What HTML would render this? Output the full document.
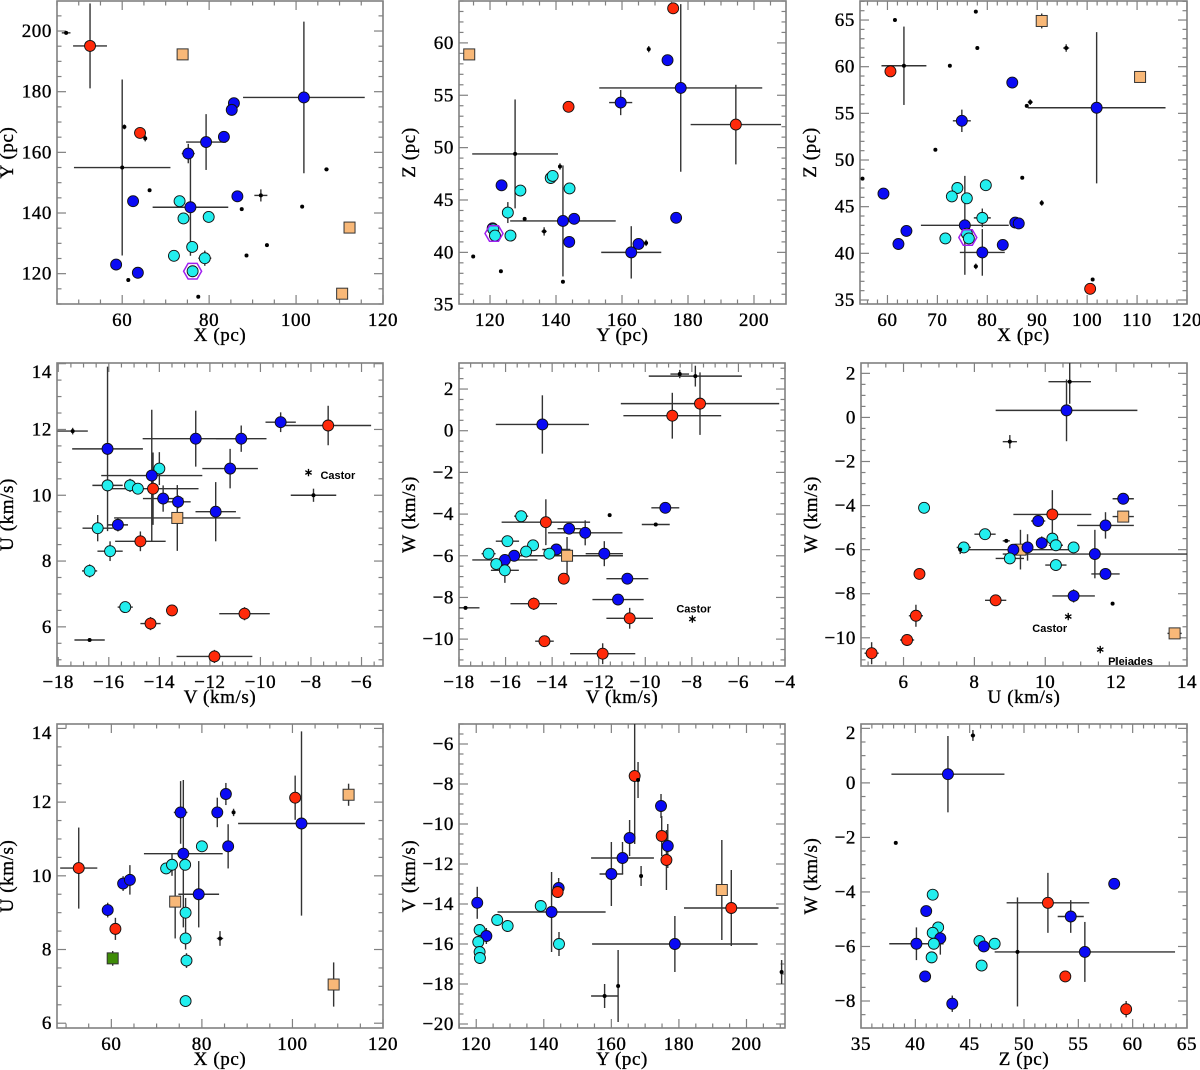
<!DOCTYPE html>
<html><head><meta charset="utf-8">
<style>
body{margin:0;background:#fff;}
svg{display:block;font-family:"Liberation Serif",serif;}
.lbl{letter-spacing:0.6px;stroke:#000;stroke-width:0.35px;}
</style></head>
<body>
<svg id="fig" width="1200" height="1070" viewBox="0 0 1200 1070" xmlns="http://www.w3.org/2000/svg"></svg>
<script>
// point format: [x, y, xErr, yErr, type]  b=blue c=cyan r=red o=orange square g=green square k=black dot
const p1Points=[[52.6,195.1,3.9,14,'r'],[47.1,199.4,1,0,'k'],[73.9,192.3,0,0,'o'],[101.8,178.1,14,25,'b'],[85.7,176.2,0,0,'b'],[85.2,174,0,0,'b'],[83.4,165.1,0,0,'b'],[79.3,163.4,4.6,9.2,'b'],[75.2,159.6,1.5,3.2,'b'],[64.1,166.4,0,0,'r'],[60.5,168.4,0,0.8,'k'],[65.3,164.6,0.4,1,'k'],[60,155,11.1,29,'k'],[66.3,147.5,0,0,'k'],[62.5,143.9,0,0,'b'],[73.2,143.9,0,0,'c'],[75.7,141.9,8.7,16,'b'],[74.1,138.2,0,0,'c'],[79.9,138.7,0,0,'c'],[86.5,145.5,0,0,'b'],[87.5,141.3,0,0,'k'],[91.9,145.8,1.5,2,'k'],[101.4,142.1,0,0,'k'],[107,154.4,0.5,0.5,'k'],[93.3,129.4,0,0,'k'],[88.6,126,0,0,'k'],[76.1,128.8,0,0,'c'],[71.9,125.9,0,0,'c'],[79,125.1,1.5,2.5,'c'],[76.2,120.8,0,0,'c'],[58.6,123,0,0,'b'],[63.6,120.3,0,0,'b'],[61.4,117.9,0,0,'k'],[77.5,112.4,0,0,'k'],[112.3,135.2,0,0,'o'],[110.6,113.4,0,0,'o']];
const p1Hex=[[76.2,120.8]];
const p2Points=[[113.7,58.9,0,0,'o'],[175.5,63.3,0,0,'r'],[168.1,59.4,0.5,0.3,'k'],[173.8,58.35,0,0,'b'],[177.8,55.7,24.7,8,'b'],[159.6,54.3,3.5,1.2,'b'],[143.8,53.9,0,0,'r'],[194.5,52.2,13.7,3.8,'r'],[127.6,49.4,13,5.2,'k'],[141.2,48.2,0.4,0.3,'k'],[138.4,47.1,0,0,'c'],[139,47.3,0,0,'c'],[144.1,46.1,0,0,'c'],[129.2,45.9,0,0,'c'],[123.5,46.4,0,0,'b'],[125.4,43.8,1.3,1,'c'],[130.5,43.2,0,0,'k'],[142.1,43,16,5.3,'b'],[145.5,43.2,0,0,'b'],[136.4,42,0.8,0.4,'k'],[126.2,41.6,0,0,'c'],[120.8,42.3,0,0,'b'],[121,42.2,0,0,'c'],[121.5,41.6,0,0,'c'],[144,41,0,0,'b'],[162.8,40,9.1,2.5,'b'],[165,40.8,0,0,'b'],[167.3,40.9,0.5,0.3,'k'],[176.4,43.3,0,0,'b'],[114.9,39.6,0,0,'k'],[123.3,38.2,0,0,'k'],[142.1,37.2,0,0,'k']];
const p2Hex=[[121.2,41.8]];
const p3Points=[[61.5,65,0,0,'k'],[77.7,65.9,0,0,'k'],[90.9,64.9,0.7,0.8,'o'],[78,62,0,0,'k'],[95.8,62,0.6,0.4,'k'],[72.5,60.1,0,0,'k'],[63.3,60.1,4.5,4.2,'k'],[60.6,59.5,0,0,'r'],[110.6,58.9,0,0,'o'],[85,58.3,0,0,'b'],[88.6,56.2,0.5,0.3,'k'],[87.9,55.8,0,0,'k'],[101.9,55.6,13.8,8.1,'b'],[74.9,54.2,1.8,1.2,'b'],[69.6,51.1,0,0,'k'],[55,48,0,0,'k'],[87,48.1,0,0,'k'],[90.9,45.4,0.4,0.3,'k'],[59.2,46.4,0,0,'b'],[74,47,0,0,'c'],[72.9,46.1,0,0,'c'],[75.9,45.9,0,0,'c'],[79.7,47.3,0,0,'c'],[79,43.8,1.7,1,'c'],[75.5,43,8.8,5.3,'b'],[85.6,43.3,0,0,'b'],[86.3,43.2,0,0,'b'],[71.6,41.6,0,0,'c'],[75.9,42.1,0,0,'c'],[76.3,41.6,0,0,'c'],[63.8,42.4,0,0,'b'],[62.2,41,0,0,'b'],[83.1,40.9,0,0,'b'],[79,40.1,4.5,2.5,'b'],[77.7,38.6,0.4,0.3,'k'],[101.1,37.2,0,0,'k'],[100.6,36.2,0,0,'r']];
const p3Hex=[[76.1,41.7]];
const p4Points=[[-17.43,11.95,0.6,0.1,'k'],[-16.05,11.41,1.4,2.5,'b'],[-9.2,12.22,0.6,0.3,'b'],[-7.32,12.12,1.7,0.6,'r'],[-12.56,11.72,2.1,0.85,'b'],[-10.76,11.72,1.0,0.4,'b'],[-11.2,10.81,1.1,0.6,'b'],[-7.9,10,0.9,0.2,'k'],[-14.0,10.81,0,0.5,'c'],[-14.3,10.6,2.0,2.0,'b'],[-16.05,10.3,0.6,0,'c'],[-15.16,10.3,0,0.2,'c'],[-14.85,10.2,0,0,'c'],[-14.25,10.2,1.8,1.1,'r'],[-13.85,9.9,0.8,0.4,'b'],[-13.26,9.8,0.5,0.2,'b'],[-11.77,9.5,0.8,0.9,'b'],[-13.29,9.31,2.5,1.0,'o'],[-15.64,9.1,0.4,0.2,'b'],[-16.44,9.0,0.6,0.4,'c'],[-14.75,8.6,1.0,0.3,'r'],[-15.95,8.3,0.5,0.3,'c'],[-16.76,7.7,0.3,0.2,'c'],[-15.35,6.6,0.3,0,'c'],[-13.5,6.5,0,0,'r'],[-14.35,6.1,0.4,0.2,'r'],[-10.63,6.4,1.0,0.2,'r'],[-11.82,5.1,1.5,0.2,'r'],[-16.76,5.6,0.6,0,'k']];
const p4Stars=[[-8.1,10.7]];
const p4StarNames=['Castor'];
const p5Points=[[-8.52,2.72,0.4,0.2,'k'],[-7.85,2.62,2,0.5,'k'],[-7.65,1.3,3.4,1.5,'r'],[-8.84,0.72,2.1,1.1,'r'],[-14.42,0.3,2.0,1.4,'b'],[-9.14,-3.7,0.6,0.1,'b'],[-11.53,-4.05,0,0,'k'],[-9.55,-4.5,0.6,0,'k'],[-15.33,-4.1,0.3,0,'c'],[-14.27,-4.39,1.9,1.1,'r'],[-13.27,-4.7,0.5,0,'b'],[-12.58,-4.9,1.6,0.6,'b'],[-14.82,-5.5,0,0,'c'],[-15.92,-5.3,0.5,0,'c'],[-15.12,-5.8,0,0,'c'],[-13.82,-5.7,0.6,0.2,'b'],[-14.12,-5.9,0,0,'c'],[-13.36,-6.0,2.4,0.9,'o'],[-11.76,-5.9,0.8,0.6,'b'],[-16.73,-5.9,0.3,0,'c'],[-15.63,-6.0,0,0,'b'],[-16.03,-6.2,1.4,0,'b'],[-16.4,-6.4,0,0,'c'],[-16.03,-6.7,0.6,0.6,'c'],[-13.5,-7.1,0,0,'r'],[-10.77,-7.1,0.9,0,'b'],[-11.17,-8.1,1.1,0.2,'b'],[-14.79,-8.3,1.0,0.3,'r'],[-17.72,-8.5,0.6,0,'k'],[-10.67,-9.0,1.0,0.5,'r'],[-14.33,-10.1,0.4,0,'r'],[-11.83,-10.7,1.4,0.5,'r']];
const p5Stars=[[-7.98,-9.0]];
const p5StarNames=['Castor'];
const p6Points=[[10.69,1.62,0.6,1.0,'k'],[10.6,0.32,2.0,1.4,'b'],[9.0,-1.1,0.2,0.3,'k'],[6.58,-4.1,0,0,'c'],[12.2,-3.69,0.3,0,'b'],[10.2,-4.4,1.1,1.1,'r'],[12.2,-4.5,0.3,0,'o'],[9.8,-4.7,0.2,0,'b'],[11.7,-4.9,0.8,0.6,'b'],[8.3,-5.3,0.3,0,'c'],[8.9,-5.6,0.1,0,'k'],[10.2,-5.5,0,0,'c'],[9.9,-5.7,0,0.3,'b'],[10.3,-5.8,0.2,0,'c'],[7.7,-5.9,0.2,0.2,'c'],[7.6,-6.0,0,0.2,'k'],[9.3,-6.0,1.5,0.9,'o'],[9.1,-6.0,0,0,'b'],[9.5,-5.9,0,0.6,'b'],[10.8,-5.9,0,0,'c'],[11.4,-6.2,2.6,1.1,'b'],[9.0,-6.4,0.4,0,'c'],[10.3,-6.7,0.3,0,'c'],[6.45,-7.1,0,0,'r'],[11.7,-7.1,0.4,0,'b'],[10.8,-8.1,0.6,0.3,'b'],[11.9,-8.45,0,0,'k'],[8.6,-8.3,0.3,0.2,'r'],[6.35,-9.0,0.2,0.5,'r'],[6.1,-10.1,0.2,0,'r'],[13.65,-9.8,0.2,0,'o'],[5.1,-10.7,0.2,0.5,'r']];
const p6Stars=[[10.65,-9.0],[11.55,-10.5]];
const p6StarNames=['Castor','Pleiades'];
const p7Points=[[52.8,10.21,4.1,1.1,'r'],[59.2,9.07,0,0.2,'b'],[60.9,8.56,0,0.3,'r'],[60.3,7.76,0,0.2,'g'],[62.6,9.79,0,0.2,'b'],[64.1,9.89,0,0.4,'b'],[72.1,10.2,0,0,'c'],[73.4,10.3,0,0.3,'c'],[74.1,9.3,0,1.0,'o'],[75.3,11.72,1.5,0.85,'b'],[75.9,10.6,8.7,2.0,'b'],[76.3,10.3,0,0,'c'],[76.4,9.0,0,0.4,'c'],[76.4,8.3,0,0.3,'c'],[76.6,7.7,0,0.2,'c'],[76.4,6.6,0,0,'c'],[80.0,10.8,0,0,'c'],[79.3,9.5,4.5,0.9,'b'],[84.0,8.3,0.7,0.2,'k'],[83.4,11.72,0,0.4,'b'],[85.3,12.22,0,0.3,'b'],[85.8,10.8,0,0.6,'b'],[87.0,11.72,0.4,0.1,'k'],[100.6,12.12,0,0.6,'r'],[102.0,11.42,14,2.5,'b'],[112.4,12.2,0,0.3,'o'],[109.1,7.05,0,0.6,'o']];
const p8Points=[[120.3,-13.94,0,0.8,'b'],[121.0,-15.3,0,0.3,'c'],[123.0,-15.6,0,0.4,'b'],[120.6,-15.9,0,0,'c'],[121.0,-16.4,0,0.3,'c'],[121.1,-16.7,0,0.3,'c'],[126.2,-14.8,0,0,'c'],[129.3,-15.1,0,0,'c'],[139.1,-14.1,0,0,'c'],[142.3,-14.4,16,2.0,'b'],[144.4,-13.2,0,0.5,'b'],[144.1,-13.4,0,0,'r'],[144.5,-16.0,0,0.6,'c'],[160.0,-12.5,3.5,1.6,'b'],[163.3,-11.7,9.3,0.8,'b'],[165.4,-10.7,0,0.9,'b'],[166.9,-7.6,0,3.4,'r'],[167.9,-7.8,0,0.9,'k'],[168.8,-12.6,0,0.5,'k'],[174.7,-9.1,0,0.6,'b'],[174.9,-10.6,0,1.0,'r'],[176.7,-11.1,0,1.1,'b'],[176.3,-11.8,0,1.5,'r'],[192.7,-13.3,0,2.5,'o'],[195.5,-14.2,14,1.9,'r'],[178.8,-16.0,24.5,1.4,'b'],[158.0,-18.6,4,0.6,'k'],[162.0,-18.1,0,1.8,'k'],[210.4,-17.4,0.5,0.6,'k']];
const p9Points=[[45.3,1.74,0.2,0.2,'k'],[43.0,0.32,5.2,1.4,'b'],[38.2,-2.2,0,0,'k'],[41.6,-4.1,0,0,'c'],[41.0,-4.7,0,0,'b'],[42.1,-5.3,0,0.2,'c'],[41.6,-5.5,0,0,'c'],[42.3,-5.7,0,0.6,'b'],[41.7,-5.9,0,0,'c'],[40.1,-5.9,2.5,0.6,'b'],[41.5,-6.4,0,0.2,'c'],[40.9,-7.1,0,0.2,'b'],[43.4,-8.1,0,0.3,'b'],[45.9,-5.8,0,0,'c'],[47.3,-5.9,0,0,'c'],[46.3,-6.0,0,0,'b'],[46.1,-6.7,0,0.2,'c'],[49.4,-6.2,0,2.0,'k'],[55.6,-6.2,8.3,1.1,'b'],[52.2,-4.4,3.8,1.1,'r'],[54.3,-4.9,1.2,0.6,'b'],[58.3,-3.7,0,0.2,'b'],[53.8,-7.1,0,0,'r'],[59.4,-8.3,0.4,0.3,'r']];

const panels=[
 {id:'xy',L:57,R:383,T:1,B:304,x0:45,x1:120,y0:110,y1:209.9,xt:[60,80,100,120],xm:5,yt:[120,140,160,180,200],ym:5,xl:'X (pc)',yl:'Y (pc)',pts:p1Points,hex:p1Hex},
 {id:'yz',L:459,R:786,T:1,B:304,x0:110.6,x1:209.7,y0:35.07,y1:64,xt:[120,140,160,180,200],xm:5,yt:[35,40,45,50,55,60],ym:1,xl:'Y (pc)',yl:'Z (pc)',pts:p2Points,hex:p2Hex},
 {id:'xz',L:860,R:1187,T:1,B:304,x0:54.5,x1:120,y0:34.57,y1:67.04,xt:[60,70,80,90,100,110,120],xm:2,yt:[35,40,45,50,55,60,65],ym:1,xl:'X (pc)',yl:'Z (pc)',pts:p3Points,hex:p3Hex},
 {id:'vu',L:57,R:383,T:363,B:666,x0:-18.05,x1:-5.15,y0:4.81,y1:14.02,xt:[-18,-16,-14,-12,-10,-8,-6],xm:0.5,yt:[6,8,10,12,14],ym:0.5,xl:'V (km/s)',yl:'U (km/s)',pts:p4Points,stars:p4Stars,names:p4StarNames,lab:[[12,3]]},
 {id:'vw',L:459,R:785,T:363,B:666,x0:-18,x1:-4,y0:-11.29,y1:3.25,xt:[-18,-16,-14,-12,-10,-8,-6,-4],xm:0.5,yt:[-10,-8,-6,-4,-2,0,2],ym:0.5,xl:'V (km/s)',yl:'W (km/s)',pts:p5Points,stars:p5Stars,names:p5StarNames,lab:[[-16,-10]]},
 {id:'uw',L:861,R:1187,T:363,B:666,x0:4.8,x1:14,y0:-11.28,y1:2.47,xt:[6,8,10,12,14],xm:0.5,yt:[-10,-8,-6,-4,-2,0,2],ym:0.5,xl:'U (km/s)',yl:'W (km/s)',pts:p6Points,stars:p6Stars,names:p6StarNames,lab:[[-36,12],[8,12]]},
 {id:'xu',L:57,R:383,T:724,B:1028,x0:48,x1:120,y0:5.87,y1:14.12,xt:[60,80,100,120],xm:5,yt:[6,8,10,12,14],ym:0.5,xl:'X (pc)',yl:'U (km/s)',pts:p7Points},
 {id:'yv',L:459,R:785,T:724,B:1028,x0:114.9,x1:211.4,y0:-20.2,y1:-5.0,xt:[120,140,160,180,200],xm:5,yt:[-20,-18,-16,-14,-12,-10,-8,-6],ym:0.5,xl:'Y (pc)',yl:'V (km/s)',pts:p8Points},
 {id:'zw',L:861,R:1187,T:724,B:1028,x0:35,x1:65,y0:-8.99,y1:2.16,xt:[35,40,45,50,55,60,65],xm:1,yt:[-8,-6,-4,-2,0,2],ym:0.5,xl:'Z (pc)',yl:'W (km/s)',pts:p9Points}
];
const NS='http://www.w3.org/2000/svg';
const svg=document.getElementById('fig');
const fill={b:'#0a0af5',c:'#22eeee',r:'#ff2a0a',o:'#f8b878',g:'#3f8c08',k:'#000'};
function mk(tag,attrs,parent){const e=document.createElementNS(NS,tag);for(const k in attrs)e.setAttribute(k,attrs[k]);parent.appendChild(e);return e;}
function fmt(v){return v<0?'\u2212'+Math.abs(v):String(v);}
panels.forEach(p=>{
  const g=mk('g',{},svg);
  
  
  const sx=v=>p.L+(v-p.x0)/(p.x1-p.x0)*(p.R-p.L);
  const sy=v=>p.B-(v-p.y0)/(p.y1-p.y0)*(p.B-p.T);
  const clip=mk('clipPath',{id:'clip-'+p.id},g);
  mk('rect',{x:p.L,y:p.T,width:p.R-p.L,height:p.B-p.T},clip);
  const tg=mk('g',{stroke:'#808080','stroke-width':1.2},g);
  
  
  const eps=1e-6;
  for(let v=Math.ceil(p.x0/p.xm-eps)*p.xm;v<=p.x1+eps;v+=p.xm){
    const major=p.xt.some(t=>Math.abs(t-v)<1e-6);const len=major?9:4.5;const x=sx(v);
    mk('line',{x1:x,x2:x,y1:p.B,y2:p.B-len},tg);mk('line',{x1:x,x2:x,y1:p.T,y2:p.T+len},tg);
  }
  for(let v=Math.ceil(p.y0/p.ym-eps)*p.ym;v<=p.y1+eps;v+=p.ym){
    const major=p.yt.some(t=>Math.abs(t-v)<1e-6);const len=major?9:4.5;const y=sy(v);
    mk('line',{x1:p.L,x2:p.L+len,y1:y,y2:y},tg);mk('line',{x1:p.R,x2:p.R-len,y1:y,y2:y},tg);
  }
  const fr=mk('rect',{x:p.L,y:p.T,width:p.R-p.L,height:p.B-p.T,fill:'none',stroke:'#808080','stroke-width':1.6},g);
  
  
  p.xt.forEach(v=>{const t=mk('text',{x:sx(v),y:p.B+22,'text-anchor':'middle','font-size':19,class:'lbl'},g);t.textContent=fmt(v);
    
    });
  p.yt.forEach(v=>{let y=Math.max(sy(v),p.T+9);const t=mk('text',{x:p.L-5,y:y+6,'text-anchor':'end','font-size':19,class:'lbl'},g);t.textContent=fmt(v);
    
    });
  const xt=mk('text',{x:(p.L+p.R)/2,y:p.B+37,'text-anchor':'middle','font-size':19,class:'lbl'},g);xt.textContent=p.xl;
  
  
  const yc=(p.T+p.B)/2, yx=p.L-44;
  const yt=mk('text',{x:yx,y:yc,'text-anchor':'middle','font-size':19,class:'lbl',transform:`rotate(-90 ${yx} ${yc})`},g);yt.textContent=p.yl;
  
  
  const dg=mk('g',{'clip-path':`url(#clip-${p.id})`},g);
  p.pts.forEach(d=>{const x=sx(d[0]),y=sy(d[1]);
    if(d[2]>0){const l=mk('line',{x1:sx(d[0]-d[2]),x2:sx(d[0]+d[2]),y1:y,y2:y,stroke:'#333','stroke-width':1.4},dg);
      
      }
    if(d[3]>0){const l=mk('line',{x1:x,x2:x,y1:sy(d[1]-d[3]),y2:sy(d[1]+d[3]),stroke:'#333','stroke-width':1.4},dg);
      
      }
  });
  p.pts.forEach(d=>{const x=sx(d[0]),y=sy(d[1]);let m;
    if(d[4]==='k'){m=mk('circle',{cx:x,cy:y,r:2,fill:'#000'},dg);}
    else if(d[4]==='o'||d[4]==='g'){m=mk('rect',{x:x-5.5,y:y-5.5,width:11,height:11,fill:fill[d[4]],stroke:'#333','stroke-width':1},dg);}
    else {m=mk('circle',{cx:x,cy:y,r:5.5,fill:fill[d[4]],stroke:'#111','stroke-width':0.9},dg);}
    
    
  });
  (p.hex||[]).forEach(h=>{const x=sx(h[0]),y=sy(h[1]);const r=9;let pts=[];
    for(let i=0;i<6;i++){const a=Math.PI/3*i;pts.push((x+r*Math.cos(a)).toFixed(1)+','+(y+r*Math.sin(a)).toFixed(1));}
    const hx=mk('polygon',{points:pts.join(' '),fill:'none',stroke:'#a020f0','stroke-width':1.5},dg);
    
    });
  (p.stars||[]).forEach((s,i)=>{const x=sx(s[0]),y=sy(s[1]);
    const st=mk('text',{x:x,y:y+4,'text-anchor':'middle','font-size':11,'font-family':'Liberation Sans, sans-serif','font-weight':'bold'},dg);st.textContent='\u2217';
    
    
    const o=p.lab[i];
    const lt=mk('text',{x:x+o[0],y:y+o[1]+4,'font-size':11,'font-weight':'bold','font-family':'Liberation Sans, sans-serif'},dg);lt.textContent=p.names[i];
    
    
  });
});
</script>
</body></html>
